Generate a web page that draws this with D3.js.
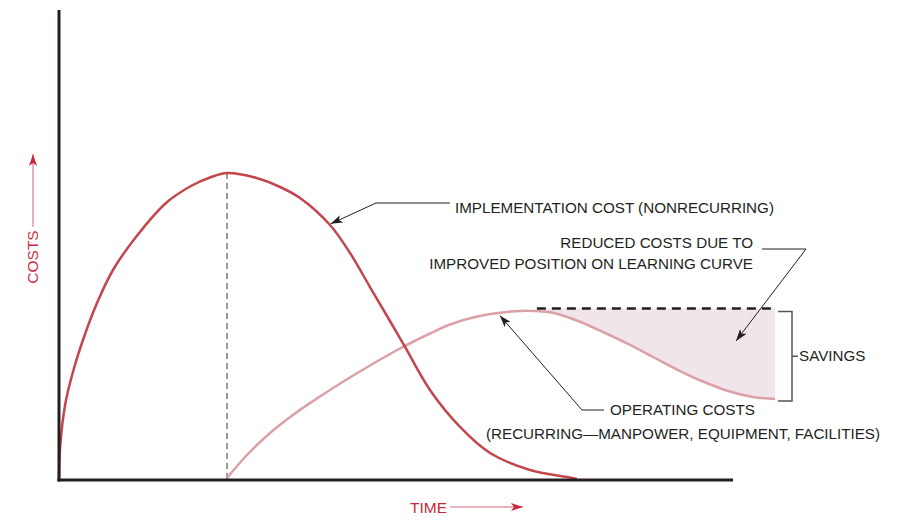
<!DOCTYPE html>
<html lang="en">
<head>
<meta charset="UTF-8">
<title>Implementation vs operating costs</title>
<script src="https://d3js.org/d3.v7.min.js"></script>
<style>
  body { margin: 0; background: #fff; }
  svg { display: block; font-family: "Liberation Sans", Arial, sans-serif; }
  .note { font-size: 15.2px; fill: #231f20; }
  .axis-label { font-size: 15.5px; fill: #c8283c; }
  .leader { stroke: #231f20; stroke-width: 1; fill: none; }
</style>
</head>
<body>
<svg id="chart" width="902" height="524"></svg>
<script>
// time on x (0-100 = length of the axis), cost on y (0-100)
const implTime = [0, 0.19, 0.96, 2.15, 3.71, 5.64, 8.01, 11.42, 15.88, 19.58, 22.40, 24.93,
  29.08, 32.79, 35.76, 40.21, 43.18, 46.14, 49.11, 51.34, 55.04, 59.50, 63.95, 69.88, 75.37, 76.85];
const implCost = [0.21, 7.45, 16.38, 23.40, 30.43, 37.66, 44.68, 51.70, 58.94, 62.55, 64.36, 65.32,
  64.36, 62.34, 60.00, 54.26, 48.30, 41.06, 33.83, 28.30, 19.15, 11.28, 5.74, 2.13, 0.64, 0.21];

const opTime = [24.93, 27.89, 31.31, 35.01, 38.72, 42.43, 46.14, 50.59, 55.04, 58.01, 61.42, 65.43,
  68.40, 71.36, 73.29, 77.00, 80.71, 84.42, 88.13, 91.84, 95.55, 99.26, 102.97, 106.23];
const opCost = [0.43, 5.32, 10.00, 14.15, 17.77, 21.17, 24.36, 27.98, 31.17, 33.09, 34.57, 35.57,
  35.96, 35.89, 35.57, 33.83, 31.49, 28.94, 26.17, 23.40, 20.96, 18.94, 17.66, 17.23];

const savingsLevel = 36.5;     // cost level without learning-curve reduction
const savingsStart = 70.9;     // time where the dashed line starts
const peakTime = 24.93;        // implementation peak (dashed drop line)
const peakCost = 65.32;

const labels = {
  impl: "IMPLEMENTATION COST (NONRECURRING)",
  reduced: ["REDUCED COSTS DUE TO", "IMPROVED POSITION ON LEARNING CURVE"],
  operating: ["OPERATING COSTS", "(RECURRING\u2014MANPOWER, EQUIPMENT, FACILITIES)"],
  savings: "SAVINGS",
  x: "TIME",
  y: "COSTS"
};

const svg = d3.select("#chart");
const x = d3.scaleLinear().domain([0, 100]).range([59, 733]);
const y = d3.scaleLinear().domain([0, 100]).range([480, 10]);

const defs = svg.append("defs");
function marker(id, color) {
  defs.append("marker")
    .attr("id", id)
    .attr("viewBox", "0 0 12 8")
    .attr("refX", 12).attr("refY", 4)
    .attr("markerWidth", 12).attr("markerHeight", 8)
    .attr("markerUnits", "userSpaceOnUse")
    .attr("orient", "auto")
    .append("path")
    .attr("d", "M0,0 L12,4 L0,8 L3,4 Z")
    .attr("fill", color);
}
marker("arrow", "#231f20");
marker("arrowRed", "#c8283c");

const impl = implTime.map((t, i) => [t, implCost[i]]);
const op = opTime.map((t, i) => [t, opCost[i]]);

const curve = d3.curveCatmullRom.alpha(0.5);
const line = d3.line().x(d => x(d[0])).y(d => y(d[1])).curve(curve);

// savings region
const savingsPts = [[savingsStart, savingsLevel]].concat(op.filter(d => d[0] > savingsStart));
const area = d3.area()
  .x(d => x(d[0]))
  .y0(y(savingsLevel))
  .y1(d => y(d[1]))
  .curve(curve);
svg.append("path")
  .attr("d", area(savingsPts))
  .attr("fill", "#efe5ea");

// dashed drop line from the implementation peak
svg.append("line")
  .attr("x1", x(peakTime)).attr("x2", x(peakTime))
  .attr("y1", y(peakCost)).attr("y2", y(0))
  .attr("stroke", "#7a7a7a").attr("stroke-width", 1.5)
  .attr("stroke-dasharray", "6,4");

// operating and implementation curves
svg.append("path")
  .attr("d", line(op))
  .attr("fill", "none")
  .attr("stroke", "#dba1a6")
  .attr("stroke-width", 2.5);

svg.append("path")
  .attr("d", line(impl))
  .attr("fill", "none")
  .attr("stroke", "#c4464d")
  .attr("stroke-width", 2.5);

// dashed savings level
svg.append("line")
  .attr("x1", x(savingsStart)).attr("x2", x(opTime[opTime.length - 1]))
  .attr("y1", y(savingsLevel)).attr("y2", y(savingsLevel))
  .attr("stroke", "#231f20").attr("stroke-width", 2.5)
  .attr("stroke-dasharray", "9,6");

// axes
svg.append("line")
  .attr("x1", x(0)).attr("x2", x(0))
  .attr("y1", y(100)).attr("y2", y(0) + 1.5)
  .attr("stroke", "#231f20").attr("stroke-width", 3);
svg.append("line")
  .attr("x1", x(0) - 1.5).attr("x2", x(100))
  .attr("y1", y(0)).attr("y2", y(0))
  .attr("stroke", "#231f20").attr("stroke-width", 3);

// axis titles with red arrows
svg.append("text")
  .attr("class", "axis-label")
  .attr("transform", "translate(38,257) rotate(-90)")
  .attr("text-anchor", "middle")
  .text(labels.y);
svg.append("line")
  .attr("x1", 33).attr("x2", 33).attr("y1", 227).attr("y2", 154)
  .attr("stroke", "#e39aa6").attr("stroke-width", 1.5)
  .attr("marker-end", "url(#arrowRed)");

svg.append("text")
  .attr("class", "axis-label")
  .attr("x", 410).attr("y", 513)
  .text(labels.x);
svg.append("line")
  .attr("x1", 450).attr("x2", 523).attr("y1", 507).attr("y2", 507)
  .attr("stroke", "#e39aa6").attr("stroke-width", 1.5)
  .attr("marker-end", "url(#arrowRed)");

// implementation annotation
svg.append("text").attr("class", "note")
  .attr("x", 455).attr("y", 213).text(labels.impl);
svg.append("path").attr("class", "leader")
  .attr("d", `M450,203 L376,203 L${x(40.3)},${y(54.5)}`)
  .attr("marker-end", "url(#arrow)");

// reduced costs annotation
svg.append("text").attr("class", "note")
  .attr("x", 753).attr("y", 248).attr("text-anchor", "end").text(labels.reduced[0]);
svg.append("text").attr("class", "note")
  .attr("x", 753).attr("y", 269).attr("text-anchor", "end").text(labels.reduced[1]);
svg.append("path").attr("class", "leader")
  .attr("d", "M762,249 L806,249 L736,341")
  .attr("marker-end", "url(#arrow)");

// operating costs annotation
svg.append("text").attr("class", "note")
  .attr("x", 610).attr("y", 415).text(labels.operating[0]);
svg.append("text").attr("class", "note")
  .attr("x", 486).attr("y", 439).text(labels.operating[1]);
svg.append("path").attr("class", "leader")
  .attr("d", `M604,410 L582,410 L${x(65.4)},${y(35.0)}`)
  .attr("marker-end", "url(#arrow)");

// savings bracket
const bx = 778, bTop = y(savingsLevel) + 3, bBot = y(opCost[opCost.length - 1]) + 2;
svg.append("path")
  .attr("d", `M${bx},${bTop} L${bx + 14},${bTop} L${bx + 14},${bBot} L${bx},${bBot} M${bx + 14},${(bTop + bBot) / 2} L${bx + 20},${(bTop + bBot) / 2}`)
  .attr("fill", "none").attr("stroke", "#555").attr("stroke-width", 1.5);
svg.append("text").attr("class", "note")
  .attr("x", 799).attr("y", (bTop + bBot) / 2 + 5).text(labels.savings);
</script>
</body>
</html>
